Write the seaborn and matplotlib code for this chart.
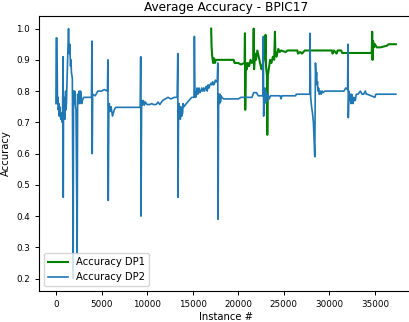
import matplotlib
matplotlib.use("Agg", force=True)
import matplotlib.pyplot as plt
import seaborn as sns

# Accuracy DP1 (green), starts late in the stream: (instance, accuracy)
dp1_points = [
    (17030, 1.00), (17080, 0.94), (17150, 0.91), (17250, 0.89), (17350, 0.905), (17450, 0.89),
    (17550, 0.90), (19500, 0.90), (19600, 0.89), (20000, 0.89), (20300, 0.885), (20700, 0.89),
    (20740, 0.985), (20770, 0.74), (20830, 0.89), (20950, 0.87), (21050, 0.89), (21200, 0.88),
    (21350, 0.90), (21500, 0.89), (21650, 0.90), (21700, 1.00), (21740, 0.87), (21850, 0.92),
    (21950, 0.90), (22100, 0.93), (22250, 0.91), (22400, 0.89), (22550, 0.87), (22650, 0.88),
    (22800, 0.90), (22950, 0.92), (23000, 0.98), (23050, 0.88), (23150, 0.85), (23190, 0.66),
    (23250, 0.85), (23350, 0.87), (23500, 0.90), (23650, 0.89), (23800, 0.91), (23950, 0.90),
    (24030, 0.99), (24080, 0.92), (24200, 0.91), (24400, 0.935), (24550, 0.925), (24700, 0.93),
    (25200, 0.925), (25400, 0.93), (26500, 0.93), (26550, 0.92), (26800, 0.925), (27000, 0.92),
    (27300, 0.93), (30300, 0.93), (30350, 0.92), (30500, 0.93), (30800, 0.92), (30900, 0.93),
    (31300, 0.93), (31400, 0.922), (34650, 0.922), (34700, 0.99), (34740, 0.90), (34800, 0.96),
    (34900, 0.94), (35000, 0.95), (35200, 0.94), (35600, 0.94), (36300, 0.945), (36500, 0.95),
    (37300, 0.95),
]

# Accuracy DP2 (blue), full stream: (instance, accuracy)
dp2_points = [
    (0, 0.76), (30, 0.97), (110, 0.97), (170, 0.76), (230, 0.78), (260, 0.74), (320, 0.76),
    (360, 0.72), (410, 0.75), (450, 0.74), (500, 0.72), (540, 0.71), (600, 0.73), (640, 0.72),
    (690, 0.70), (720, 0.70), (780, 0.91), (800, 0.46), (830, 0.72), (870, 0.76), (900, 0.78),
    (940, 0.73), (980, 0.71), (1020, 0.77), (1060, 0.80), (1100, 0.74), (1150, 0.76),
    (1200, 0.82), (1250, 0.87), (1380, 1.00), (1450, 0.92), (1520, 0.95), (1600, 0.88),
    (1650, 0.90), (1700, 0.86), (1750, 0.85), (1800, 0.84), (1890, 0.20), (1930, 0.80),
    (1970, 0.77), (2000, 0.76), (2050, 0.80), (2100, 0.79), (2150, 0.75), (2200, 0.74),
    (2330, 0.28), (2380, 0.79), (2450, 0.76), (2500, 0.79), (2550, 0.80), (2600, 0.76),
    (2650, 0.77), (2700, 0.80), (2750, 0.79), (2820, 0.76), (2900, 0.77), (3050, 0.78),
    (3600, 0.78), (3900, 0.78), (3950, 0.96), (3980, 0.60), (4030, 0.79), (4300, 0.785),
    (4600, 0.80), (5000, 0.80), (5300, 0.805), (5650, 0.80), (5700, 0.90), (5740, 0.45),
    (5800, 0.73), (5850, 0.76), (5880, 0.75), (5950, 0.735), (6000, 0.75), (6050, 0.75),
    (6200, 0.72), (6400, 0.74), (6550, 0.748), (9250, 0.748), (9300, 0.91), (9330, 0.40),
    (9400, 0.77), (9500, 0.755), (9600, 0.77), (9700, 0.755), (9800, 0.765), (10000, 0.757),
    (10300, 0.757), (10500, 0.76), (10700, 0.757), (11000, 0.757), (11200, 0.765),
    (11400, 0.757), (11700, 0.77), (12000, 0.775), (12300, 0.78), (12600, 0.775),
    (13000, 0.78), (13300, 0.78), (13370, 0.92), (13400, 0.46), (13450, 0.72), (13500, 0.76),
    (13550, 0.75), (13600, 0.73), (13650, 0.71), (13700, 0.75), (13750, 0.74), (13800, 0.72),
    (13900, 0.73), (13950, 0.76), (14050, 0.75), (14300, 0.76), (14600, 0.77), (14900, 0.78),
    (15150, 0.78), (15190, 0.975), (15250, 0.80), (15330, 0.78), (15400, 0.79), (15480, 0.81),
    (15550, 0.79), (15620, 0.795), (15700, 0.81), (15800, 0.795), (15900, 0.80), (16000, 0.81),
    (16100, 0.80), (16200, 0.81), (16300, 0.80), (16400, 0.81), (16500, 0.815), (16600, 0.80),
    (16700, 0.82), (16800, 0.81), (16900, 0.82), (17000, 0.825), (17100, 0.82), (17200, 0.83),
    (17300, 0.82), (17400, 0.825), (17500, 0.835), (17600, 0.83), (17700, 0.83),
    (17760, 0.89), (17790, 0.39), (17850, 0.77), (17900, 0.79), (17950, 0.76), (18000, 0.79),
    (18050, 0.765), (18120, 0.785), (18200, 0.78), (18400, 0.775), (20000, 0.775),
    (20300, 0.78), (21500, 0.78), (21700, 0.795), (22000, 0.795), (22200, 0.785),
    (22700, 0.785), (22760, 0.975), (22790, 0.72), (22850, 0.80), (22900, 0.76), (22950, 0.81),
    (23000, 0.77), (23050, 0.80), (23100, 0.765), (23150, 0.79), (23250, 0.79), (23400, 0.775),
    (23550, 0.785), (24600, 0.785), (24700, 0.775), (24800, 0.785), (26300, 0.785),
    (26370, 0.79), (27850, 0.79), (27880, 0.985), (27950, 0.78), (28050, 0.75), (28150, 0.73),
    (28250, 0.70), (28400, 0.59), (28480, 0.89), (28550, 0.84), (28600, 0.86), (28650, 0.82),
    (28700, 0.83), (28750, 0.80), (28820, 0.81), (28900, 0.79), (29000, 0.80), (29100, 0.79),
    (29200, 0.80), (29300, 0.795), (29500, 0.80), (29800, 0.80), (31600, 0.80), (31800, 0.81),
    (32000, 0.805), (32050, 0.95), (32080, 0.715), (32150, 0.80), (32220, 0.77), (32300, 0.79),
    (32380, 0.76), (32450, 0.79), (32520, 0.77), (32600, 0.76), (32680, 0.78), (32750, 0.77),
    (32850, 0.77), (32950, 0.79), (33150, 0.79), (33400, 0.80), (33600, 0.79), (33750, 0.79),
    (33950, 0.80), (34050, 0.79), (34150, 0.79), (35000, 0.78), (35100, 0.79), (35200, 0.79),
    (37300, 0.79),
]

dp1_x = [p[0] for p in dp1_points]
dp1_y = [p[1] for p in dp1_points]
dp2_x = [p[0] for p in dp2_points]
dp2_y = [p[1] for p in dp2_points]


def main() -> None:
    fig = plt.figure(figsize=(4.10, 3.22), dpi=100)
    ax = fig.add_axes([0.095, 0.096, 0.912, 0.854])
    sns.lineplot(x=dp1_x, y=dp1_y, color="green", linewidth=1.5, label="Accuracy DP1",
                 estimator=None, ax=ax)
    sns.lineplot(x=dp2_x, y=dp2_y, color="#1f77b4", linewidth=1.2, label="Accuracy DP2",
                 estimator=None, ax=ax)
    ax.set_xticks([0, 5000, 10000, 15000, 20000, 25000, 30000, 35000])
    ax.tick_params(labelsize=6.3, length=3, width=0.7)
    for s in ax.spines.values():
        s.set_linewidth(0.8)
    ax.set_xlabel("Instance #", fontsize=7.2, labelpad=2)
    ax.set_ylabel("Accuracy", fontsize=7.2, labelpad=4)
    ax.set_title("Average Accuracy - BPIC17", fontsize=8.7, pad=4)
    ax.legend(loc="lower left", fontsize=7.2)
    fig.savefig("out.png", dpi=100)
    plt.close(fig)


if __name__ == "__main__":
    main()
